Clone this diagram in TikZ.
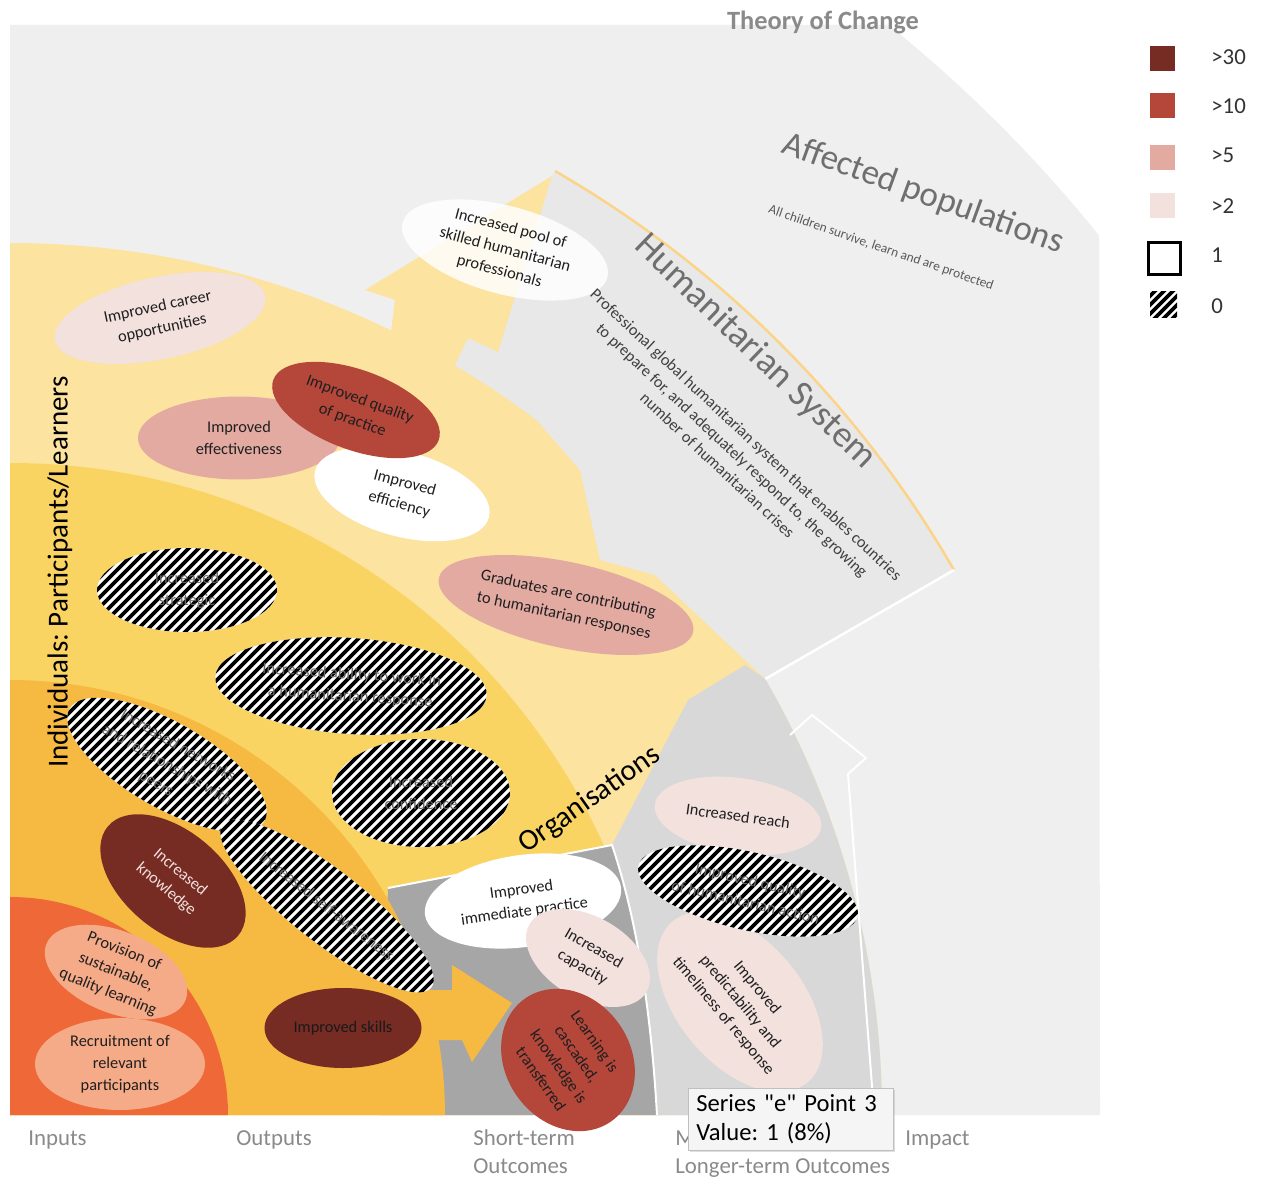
\documentclass[tikz,border=0pt]{standalone}
\usepackage{fontspec}
\setmainfont{Carlito}
\newfontfamily\tipfont{Carlito}
\usetikzlibrary{calc,shapes.geometric,shadows}
\frenchspacing
\newcommand\PX{0.02cm}
\definecolor{affect}{HTML}{EFEFEF}
\definecolor{humgray}{HTML}{E8E8E8}
\definecolor{ltyel}{HTML}{FCE3A0}
\definecolor{yel}{HTML}{F9D462}
\definecolor{outp}{HTML}{F6B942}
\definecolor{inp}{HTML}{EE6838}
\definecolor{orgdark}{HTML}{A6A6A6}
\definecolor{orglight}{HTML}{D8D8D8}
\definecolor{cthirty}{HTML}{762C23}
\definecolor{cten}{HTML}{B4463A}
\definecolor{cfive}{HTML}{E3AAA2}
\definecolor{ctwo}{HTML}{F3E1DE}
\definecolor{peach}{HTML}{F5AA88}
\definecolor{labgray}{HTML}{8A8A8A}
\definecolor{titlegray}{HTML}{6F6F6F}
% hatched bubble: name, cx, cy, width, height, rotation, text
\newcommand\hatchbub[7]{%
  \begin{scope}
    \clip[rotate around={#6:(#2,#3)}] (#2,#3) ellipse [x radius=#4/2, y radius=#5/2];
    \fill[white] ($(#2,#3)+(-160,-160)$) rectangle ($(#2,#3)+(160,160)$);
    \foreach \k in {-330,-320,...,330}{\draw[black, line width=3.6*\PX] ($(#2,#3)+(\k-160,-160)$) -- ++(320,320);}
  \end{scope}
  \node[bub, text=black!60, rotate=#6, minimum width=#4*\PX, minimum height=#5*\PX] (#1) at (#2,#3) {#7};}
\begin{document}
\begin{tikzpicture}[x=0.02cm,y=0.02cm,
  bub/.style={ellipse, inner sep=0pt, align=center, font=\fontsize{9.3}{12.5}\selectfont, text=black!88},
  axislab/.style={font=\fontsize{13}{15}\selectfont, text=labgray, anchor=base west, inner sep=0pt},
  legtext/.style={font=\fontsize{13}{15}\selectfont, text=black!80, anchor=west, inner sep=0pt},
  legsq/.style={minimum size=25*\PX, inner sep=0pt}]
\useasboundingbox (0,0) rectangle (1263,1178);
\fill[white] (0,0) rectangle (1263,1178);
\coordinate (C) at (10,63);
% outer ring: affected populations
\fill[affect] (10,63) -- (10,1153) -- (888.6,1153) arc[start angle=51.1,end angle=38.9,radius=1400] -- (1100,63) -- cycle;
% longer-term individuals
\fill[ltyel] (C) -- ++(0:872) arc[start angle=0,end angle=90,radius=872] -- cycle;
% humanitarian system wedge
\fill[humgray] ($(C)+(30:872)$) -- ($(C)+(30:1090)$) arc[start angle=30,end angle=60,radius=1090] -- ($(C)+(60:872)$) arc[start angle=60,end angle=30,radius=872] -- cycle;
\fill[humgray] (446,818) -- (515,783) -- (580,708) -- (600,618) -- (655,603) -- ($(C)+(30:872)$) arc[start angle=30,end angle=60,radius=872] -- cycle;
\fill[ltyel] (390,838) -- (395,878) -- (365,888) -- (552,1002) -- (498,826) -- (468,840) -- (455,813) -- cycle;
\draw[ltyel!85!orange, line width=2.5*\PX] ($(C)+(30:1090)$) arc[start angle=30,end angle=60,radius=1090];
\draw[white, line width=2.5*\PX] ($(C)+(30:872)$) -- ($(C)+(30:1090)$);
% short-term individuals
\fill[yel] (C) -- ++(0:652) arc[start angle=0,end angle=90,radius=652] -- cycle;
% organisations
\fill[orglight] (612,333) -- (688,478) -- (745,513) -- ($(C)+(30:872)$) arc[start angle=30,end angle=0,radius=872] -- (657,63) .. controls (652,150) and (640,250) .. (612,333) -- cycle;
\draw[white, line width=2*\PX] (790,443) -- (812,463) -- (866,420) -- (848,404) -- (874,66);
\fill[orgdark] (388,290) -- (612,333) .. controls (640,250) and (652,150) .. (657,63) -- (380,63) -- cycle;
\draw[white, line width=2*\PX] (388,290) -- (612,333) .. controls (640,250) and (652,150) .. (657,63);
% outputs and inputs
\fill[outp] (C) -- ++(0:435) arc[start angle=0,end angle=90,radius=435] -- cycle;
\fill[outp] (420,188) -- (452,188) -- (452,213) -- (512,175) -- (472,116) -- (462,138) -- (420,138) -- cycle;
\fill[inp] (C) -- ++(0:218) arc[start angle=0,end angle=90,radius=218] -- cycle;

% bubbles
\node[bub, fill=ctwo, minimum width=215*\PX, minimum height=82*\PX, rotate=12] (career) at (160,860) {Improved career\\opportunities};
\node[bub, fill=cfive, minimum width=202*\PX, minimum height=83*\PX] (effect) at (239,740) {Improved\\effectiveness};
\node[bub, fill=white, minimum width=180*\PX, minimum height=85*\PX, rotate=-15] (effic) at (402,684) {Improved\\efficiency};
\node[bub, fill=cten, minimum width=176*\PX, minimum height=80*\PX, rotate=-20] (quality) at (356,768) {Improved quality\\of practice};
\node[bub, fill=white, fill opacity=0.85, text opacity=1, minimum width=212*\PX, minimum height=88*\PX, rotate=-15] (pool) at (505,928) {Increased pool of\\skilled humanitarian\\professionals};
\hatchbub{strategic}{187}{588}{180}{84}{0}{Increased\\strategic}
\hatchbub{ability}{351}{492}{272}{96}{-4}{Increased ability to work in\\a humanitarian response}
\hatchbub{network}{167}{413}{225}{85}{-30}{Increased networks\\and relationships with\\peers}
\hatchbub{confidence}{421}{385}{178}{108}{0}{Increased\\confidence}
\node[bub, fill=cthirty, text=ctwo, minimum width=170*\PX, minimum height=100*\PX, rotate=-40] (knowledge) at (173,297) {Increased\\knowledge};
\hatchbub{attitudes}{327}{272}{265}{72}{-38}{Increased self-awareness}
\node[bub, fill=cthirty, text=black!90, minimum width=157*\PX, minimum height=80*\PX] (skills) at (343,150) {Improved skills};
\node[bub, fill=peach, minimum width=150*\PX, minimum height=82*\PX, rotate=-22] (provision) at (116,206) {Provision of\\sustainable,\\quality learning};
\node[bub, fill=peach, minimum width=170*\PX, minimum height=92*\PX] (recruit) at (120,114) {Recruitment of\\relevant\\participants};
\node[bub, fill=cfive, minimum width=260*\PX, minimum height=86*\PX, rotate=-12] (graduates) at (566,573) {Graduates are contributing\\to humanitarian responses};
\node[bub, fill=white, minimum width=198*\PX, minimum height=92*\PX, rotate=8] (immediate) at (523,277) {Improved\\immediate practice};
\node[bub, fill=ctwo, minimum width=135*\PX, minimum height=82*\PX, rotate=-30] (capacity) at (588,220) {Increased\\capacity};
\node[bub, fill=cten, minimum width=150*\PX, minimum height=125*\PX, rotate=-55] (cascaded) at (568,118) {Learning is\\cascaded,\\knowledge is\\transferred};
\node[bub, fill=ctwo, minimum width=168*\PX, minimum height=76*\PX, rotate=-8] (reach) at (738,362) {Increased reach};
\node[bub, fill=ctwo, minimum width=205*\PX, minimum height=125*\PX, rotate=-50] (predict) at (740,176) {Improved\\predictability and\\timeliness of response};
\hatchbub{qualhum}{748}{287}{225}{78}{-13}{Improved quality\\of humanitarian action}

% section titles
\node[font=\fontsize{16.5}{18}\selectfont, rotate=90, inner sep=0pt] (indiv) at (60,606) {Individuals: Participants/Learners};
\node[font=\fontsize{17}{19}\selectfont, rotate=35, inner sep=0pt] (orgs) at (590,378) {Organisations};
\node[font=\fontsize{21}{24}\selectfont, text=titlegray, rotate=-44, inner sep=0pt] (humsys) at (755,826) {Humanitarian System};
\node[font=\fontsize{9.3}{12}\selectfont, text=black!75, rotate=-43, align=center, inner sep=0pt] (humtext) at (732,728) {Professional global humanitarian system that enables countries\\to prepare for, and adequately respond to, the growing\\number of humanitarian crises};
\node[font=\fontsize{20}{24}\selectfont, text=titlegray, rotate=-20, inner sep=0pt] (affpop) at (923,984) {Affected populations};
\node[font=\fontsize{7.6}{9}\selectfont, text=black!65, rotate=-19, inner sep=0pt] (afftext) at (881,930) {All children survive, learn and are protected};
\node[font=\bfseries\fontsize{15}{17}\selectfont, text=labgray, inner sep=0pt] (title) at (823,1156) {Theory of Change};

% axis labels
\node[axislab] (linputs) at (28,33) {Inputs};
\node[axislab] (loutputs) at (236,33) {Outputs};
\node[axislab] (lshort) at (473,33) {Short-term};
\node[axislab] (lshort2) at (473,5) {Outcomes};
\node[axislab] (lmed) at (675,33) {M};
\node[axislab] (llong) at (675,5) {Longer-term Outcomes};
\node[axislab] (limpact) at (905,33) {Impact};

% tooltip
\node[draw=black!25, fill=black!4, drop shadow={opacity=0.25,shadow xshift=2*\PX,shadow yshift=-2*\PX}, minimum width=205*\PX, minimum height=62*\PX, anchor=north west, inner xsep=8*\PX, align=left, font=\tipfont\fontsize{14}{16.5}\selectfont, text width=189*\PX] (tip) at (688,90) {Series "e" Point 3\\Value: 1 (8\%)};

% legend
\node[legsq, fill=cthirty] (sq30) at (1162,1119) {};
\node[legsq, fill=cten] (sq10) at (1162,1072) {};
\node[legsq, fill=cfive] (sq5) at (1162,1020) {};
\node[legsq, fill=ctwo] (sq2) at (1162,972) {};
\node[draw=black, line width=3*\PX, minimum size=32*\PX, inner sep=0pt] (sq1) at (1164,919) {};
\begin{scope}
  \clip (1150,860) rectangle (1177,886);
  \foreach \k in {-40,-31,...,40}{\draw[black, line width=3.6*\PX] ($(1163,873)+(\k-20,-20)$) -- ++(40,40);}
\end{scope}
\node[legsq, minimum size=26*\PX] (sq0) at (1163,873) {};
\node[legtext] (t30) at (1211,1121) {>30};
\node[legtext] (t10) at (1211,1072) {>10};
\node[legtext] (t5) at (1211,1023) {>5};
\node[legtext] (t2) at (1211,972) {>2};
\node[legtext] (t1) at (1211,923) {1};
\node[legtext] (t0) at (1211,872) {0};
\end{tikzpicture}
\end{document}
